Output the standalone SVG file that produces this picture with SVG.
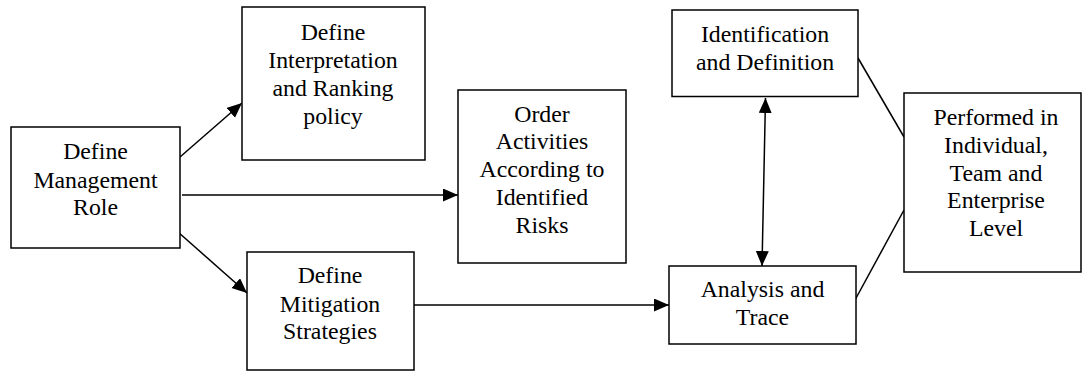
<svg xmlns="http://www.w3.org/2000/svg" width="1082" height="372" viewBox="0 0 1082 372">
<style>
.box{fill:#fff;stroke:#000;stroke-width:1.5}
.t{font-family:'Liberation Serif','DejaVu Serif',serif;font-size:23.8px;fill:#000;text-anchor:middle}
.c{stroke:#000;stroke-width:1.5;fill:none}
</style>
<defs>
<marker id="ah" markerUnits="userSpaceOnUse" markerWidth="16" markerHeight="14" refX="15" refY="6.5" orient="auto-start-reverse">
<path d="M0,0 L15,6.5 L0,13 z" fill="#000"/>
</marker>
</defs>
<rect width="1082" height="372" fill="#fff"/>
<g id="connectors">
<line class="c" x1="180" y1="157" x2="242" y2="103" marker-end="url(#ah)"/>
<line class="c" x1="182" y1="195" x2="458" y2="195" marker-end="url(#ah)"/>
<line class="c" x1="178" y1="232" x2="247" y2="293" marker-end="url(#ah)"/>
<line class="c" x1="413" y1="305" x2="669" y2="305" marker-end="url(#ah)"/>
<line class="c" x1="765.5" y1="98" x2="762" y2="266" marker-start="url(#ah)" marker-end="url(#ah)"/>
<line class="c" x1="858" y1="58" x2="904" y2="137"/>
<line class="c" x1="855" y1="300" x2="904" y2="210"/>
</g>
<g id="n-management">
<rect class="box" x="11" y="127" width="169" height="121"/>
<text class="t" font-family="Liberation Serif, serif"><tspan x="95.5" y="159.3">Define</tspan><tspan x="95.5" y="187.5">Management</tspan><tspan x="95.5" y="215.3">Role</tspan></text>
</g>
<g id="n-interpretation">
<rect class="box" x="242" y="7" width="183" height="153"/>
<text class="t"><tspan x="333" y="40">Define</tspan><tspan x="333" y="68.3">Interpretation</tspan><tspan x="333" y="96">and Ranking</tspan><tspan x="333" y="124">policy</tspan></text>
</g>
<g id="n-mitigation">
<rect class="box" x="247" y="252" width="167" height="118"/>
<text class="t"><tspan x="330" y="283.3">Define</tspan><tspan x="330" y="311.7">Mitigation</tspan><tspan x="330" y="339.3">Strategies</tspan></text>
</g>
<g id="n-order">
<rect class="box" x="458" y="90" width="168" height="173"/>
<text class="t"><tspan x="542" y="121.7">Order</tspan><tspan x="542" y="149.3">Activities</tspan><tspan x="542" y="176.7">According to</tspan><tspan x="542" y="205">Identified</tspan><tspan x="542" y="232.7">Risks</tspan></text>
</g>
<g id="n-identification">
<rect class="box" x="672" y="10" width="186" height="86.5"/>
<text class="t"><tspan x="765" y="41.7">Identification</tspan><tspan x="765" y="70">and Definition</tspan></text>
</g>
<g id="n-analysis">
<rect class="box" x="669" y="266" width="187" height="78"/>
<text class="t"><tspan x="762.5" y="296.7">Analysis and</tspan><tspan x="762.5" y="325">Trace</tspan></text>
</g>
<g id="n-performed">
<rect class="box" x="904" y="93" width="177" height="179"/>
<text class="t"><tspan x="996" y="125">Performed in</tspan><tspan x="996" y="153.3">Individual,</tspan><tspan x="996" y="180.7">Team and</tspan><tspan x="996" y="208.3">Enterprise</tspan><tspan x="996" y="236">Level</tspan></text>
</g>
</svg>
